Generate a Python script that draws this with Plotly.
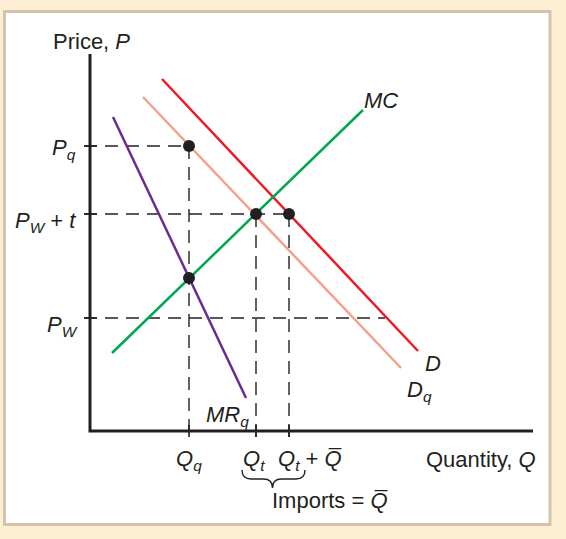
import plotly.graph_objects as go

# ---- data (economic quantities, arbitrary units) ----
Q_q = 9.9              # quota quantity
Q_t = 16.6             # quantity under tariff
Q_t_plus_Qbar = 19.9   # Q_t + imports
P_q = 28.5             # price under quota
P_W_t = 21.7           # world price + tariff
P_W = 11.3             # world price
P_mr_mc = 15.3         # MR_q = MC

mr_q = [2.3, 15.6]
mr_p = [31.4, 3.3]
mc_q = [2.2, 27.3]
mc_p = [7.8, 32.1]
dq_q = [5.3, 31.1]
dq_p = [33.4, 6.3]
d_q = [7.2, 32.8]
d_p = [35.2, 8.0]

pts_q = [Q_q, Q_t, Q_t_plus_Qbar, Q_q]
pts_p = [P_q, P_W_t, P_W_t, P_mr_mc]

axis_q_max = 44.3
axis_p_max = 37.7
pw_line_end = 29.5

INK = "#231F20"
FONT = "Liberation Sans"
FS = 22

fig = go.Figure()

# dashed guide lines
dash = "13px,8px"
hlines = [(P_q, Q_q), (P_W_t, Q_t_plus_Qbar), (P_W, pw_line_end)]
for p, qend in hlines:
    fig.add_trace(go.Scatter(x=[-0.6, qend], y=[p, p], mode="lines",
                             line=dict(color=INK, width=1.4, dash=dash), hoverinfo="skip"))
vlines = [(Q_q, P_q), (Q_t, P_W_t), (Q_t_plus_Qbar, P_W_t)]
for q, ptop in vlines:
    fig.add_trace(go.Scatter(x=[q, q], y=[ptop, -0.6], mode="lines",
                             line=dict(color=INK, width=1.4, dash=dash), hoverinfo="skip"))

# tick marks crossing axes
for p in [P_q, P_W_t, P_W]:
    fig.add_trace(go.Scatter(x=[-0.6, 0.7], y=[p, p], mode="lines",
                             line=dict(color=INK, width=1.6), hoverinfo="skip"))
for q in [Q_q, Q_t, Q_t_plus_Qbar]:
    fig.add_trace(go.Scatter(x=[q, q], y=[-0.6, 0.6], mode="lines",
                             line=dict(color=INK, width=1.6), hoverinfo="skip"))

# axes
fig.add_trace(go.Scatter(x=[0, 0, axis_q_max], y=[axis_p_max, 0, 0], mode="lines",
                         line=dict(color=INK, width=3), hoverinfo="skip"))

# curves
curves = [
    (dq_q, dq_p, "#F4A08A"),
    (d_q, d_p, "#ED1C24"),
    (mc_q, mc_p, "#00A651"),
    (mr_q, mr_p, "#6B2C91"),
]
for qs, ps, col in curves:
    fig.add_trace(go.Scatter(x=qs, y=ps, mode="lines",
                             line=dict(color=col, width=2.5), hoverinfo="skip"))

# points
fig.add_trace(go.Scatter(x=pts_q, y=pts_p, mode="markers",
                         marker=dict(color=INK, size=12), hoverinfo="skip"))

# brace under Q_t ... Q_t + Qbar
L = Q_t - 1.4
R = Q_t_plus_Qbar + 1.6
M = (Q_t + Q_t_plus_Qbar) / 2
yt, yb, yp, r = -3.9, -4.8, -5.7, 0.9
brace = (f"M {L},{yt} Q {L},{yb} {L+r},{yb} L {M-r},{yb} Q {M},{yb} {M},{yp} "
         f"Q {M},{yb} {M+r},{yb} L {R-r},{yb} Q {R},{yb} {R},{yt}")
fig.add_shape(type="path", path=brace, xref="x", yref="y",
              line=dict(color=INK, width=1.4))

# white panel
W, H = 566, 539
fig.add_shape(type="rect", xref="paper", yref="paper",
              x0=4.5 / W, x1=550 / W, y0=1 - 524.5 / H, y1=1 - 11.5 / H,
              fillcolor="white", line=dict(color="#D3C5AD", width=3), layer="below")

QBAR = "Q\u0305"

def ann(text, x, y, xanchor="center", size=FS):
    fig.add_annotation(text=text, x=x, y=y, xref="x", yref="y", showarrow=False,
                       xanchor=xanchor, yanchor="middle",
                       font=dict(family=FONT, size=size, color=INK))

ann("Price, <i>P</i>", 0.1, 39.0)
ann("Quantity, <i>Q</i>", 39.1, -2.8)
ann("<i>P<sub>q</sub></i>", -1.2, 28.2, xanchor="right")
ann("<i>P<sub>W</sub></i> + <i>t</i>", -1.2, 20.9, xanchor="right")
ann("<i>P<sub>W</sub></i>", -1.0, 10.5, xanchor="right")
ann("<i>Q<sub>q</sub></i>", 9.9, -2.9)
ann("<i>Q<sub>t</sub></i>", 16.4, -2.9)
ann("<i>Q<sub>t</sub></i> + <i>" + QBAR + "</i>", 22.0, -2.9)
ann("Imports = <i>" + QBAR + "</i>", 24.0, -6.9)
ann("<i>MR<sub>q</sub></i>", 13.7, 1.5)
ann("<i>MC</i>", 29.1, 33.1)
ann("<i>D</i>", 34.3, 6.8)
ann("<i>D<sub>q</sub></i>", 32.9, 4.0)

fig.update_layout(
    width=W, height=H,
    margin=dict(l=0, r=0, t=0, b=0),
    paper_bgcolor="#FDEED4",
    plot_bgcolor="rgba(0,0,0,0)",
    showlegend=False,
    xaxis=dict(range=[-9.0, 47.6], visible=False, fixedrange=True),
    yaxis=dict(range=[-10.8, 43.1], visible=False, fixedrange=True),
)

fig.write_html("out.html", config={"displayModeBar": False},
               post_script="document.body.style.margin='0';")
